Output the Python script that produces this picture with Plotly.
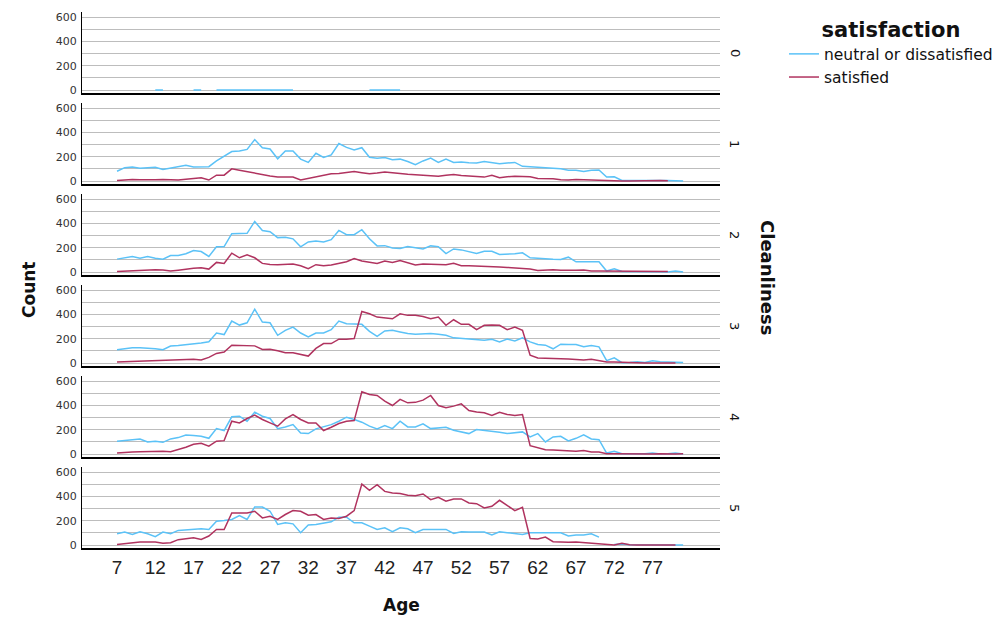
import plotly.graph_objects as go

# ---------------- data ----------------
AGES = list(range(7, 82))
CLEANLINESS = ["0", "1", "2", "3", "4", "5"]
SATISFACTION = ["neutral or dissatisfied", "satisfied"]
X_TICKS = [7, 12, 17, 22, 27, 32, 37, 42, 47, 52, 57, 62, 67, 72, 77]
Y_TICKS = [0, 100, 200, 300, 400, 500, 600]
Y_TICK_TEXT = ["0", "", "200", "", "400", "", "600"]

NEUTRAL_C0 = [None, None, None, None, None, 1, 1, None, None, None,
              1, 1, None, 1, 2, 1, 1, 2, 1, 1,
              1, 2, 1, 1, None, None, None, None, None, None,
              None, None, None, 1, 1, 2, 1, 1, None, None,
              None, None, None, None, None, None, None, None, None, None,
              None, None, None, None, None, None, None, None, None, None,
              None, None, None, None, None, None, None, None, None, None,
              None, None, None, None, None]
SATISFIED_C0 = None

NEUTRAL_C1 = [80, 110, 115, 105, 110, 113, 95, 105, 118, 130,
              115, 117, 118, 165, 205, 242, 247, 260, 341, 274,
              263, 183, 247, 247, 180, 153, 228, 194, 215, 309,
              277, 255, 274, 196, 188, 194, 175, 180, 160, 134,
              165, 188, 153, 180, 153, 156, 150, 148, 161, 150,
              142, 148, 153, 121, 118, 115, 107, 103, 100, 89,
              89, 78, 89, 91, 32, 35, 5, 5, 5, 8,
              10, 6, 5, 3, 0]
SATISFIED_C1 = [5, 10, 13, 10, 8, 10, 13, 10, 8, 15,
                22, 27, 8, 48, 48, 100, 88, 75, 62, 51,
                42, 32, 32, 32, 8, 20, 32, 45, 59, 62,
                67, 78, 68, 59, 65, 75, 68, 59, 55, 52,
                48, 45, 40, 48, 54, 46, 40, 38, 32, 48,
                27, 35, 40, 37, 35, 21, 20, 19, 10, 8,
                13, 10, 8, 6, 5, 2, 0, 0, 2, 3,
                5, 4, 3, None, None]

NEUTRAL_C2 = [106, 118, 128, 114, 128, 114, 106, 136, 136, 150,
              177, 168, 128, 207, 209, 315, 318, 318, 416, 342,
              332, 283, 285, 273, 207, 247, 255, 247, 266, 342,
              307, 307, 348, 273, 215, 217, 198, 193, 209, 200,
              190, 215, 209, 152, 190, 182, 168, 152, 171, 171,
              144, 144, 150, 158, 117, 114, 106, 104, 103, 122,
              84, 84, 84, 84, 8, 27, 5, 5, 5, 6,
              8, 3, 0, 8, 0]
SATISFIED_C2 = [5, 8, 10, 15, 19, 18, 16, 8, 15, 24,
                30, 35, 24, 79, 71, 155, 117, 141, 117, 71,
                62, 60, 62, 65, 52, 27, 60, 52, 57, 70,
                84, 111, 90, 80, 71, 90, 79, 95, 75, 57,
                65, 65, 62, 60, 71, 52, 51, 50, 49, 45,
                42, 38, 35, 30, 24, 13, 16, 19, 15, 13,
                14, 16, 8, 8, 8, 6, 5, 5, 5, 5,
                5, 5, 5, None, None]

NEUTRAL_C3 = [109, 118, 125, 126, 125, 118, 109, 139, 144, 150,
              160, 165, 175, 247, 234, 345, 312, 331, 443, 337,
              331, 228, 269, 296, 247, 215, 247, 247, 274, 345,
              323, 320, 318, 261, 220, 264, 269, 255, 242, 236,
              238, 242, 236, 228, 207, 201, 198, 193, 188, 196,
              174, 198, 182, 207, 174, 152, 147, 117, 155, 152,
              152, 133, 144, 133, 19, 43, 3, 5, 11, 5,
              19, 11, 8, 6, 5]
SATISFIED_C3 = [8, 10, 12, 15, 19, 20, 21, 22, 26, 30,
                30, 24, 46, 79, 90, 147, 147, 145, 141, 111,
                114, 100, 84, 84, 70, 57, 120, 160, 160, 196,
                196, 201, 424, 405, 378, 370, 364, 405, 392, 392,
                383, 364, 378, 310, 356, 318, 318, 274, 310, 312,
                310, 274, 296, 269, 65, 41, 41, 38, 35, 32,
                30, 24, 30, 20, 8, 8, 5, 3, 2, 1,
                1, 0, 0, 0, None]

NEUTRAL_C4 = [105, 112, 118, 124, 99, 105, 96, 124, 135, 157,
              152, 146, 129, 209, 193, 306, 311, 270, 344, 311,
              292, 209, 223, 242, 173, 168, 207, 223, 242, 270,
              303, 284, 262, 229, 207, 234, 209, 270, 223, 223,
              248, 209, 215, 220, 196, 182, 168, 201, 195, 187,
              179, 168, 175, 182, 140, 168, 99, 140, 146, 107,
              129, 157, 124, 118, 8, 22, 3, 2, 0, 3,
              8, 0, 3, 8, 0]
SATISFIED_C4 = [8, 15, 17, 19, 21, 25, 22, 19, 36, 55,
                80, 88, 65, 105, 110, 270, 256, 292, 320, 284,
                256, 229, 289, 325, 284, 256, 256, 193, 220, 251,
                270, 275, 512, 490, 482, 435, 399, 450, 421, 425,
                443, 482, 399, 380, 394, 413, 358, 345, 339, 317,
                344, 325, 317, 325, 69, 50, 36, 33, 30, 25,
                22, 28, 17, 17, 3, 2, 1, 0, 0, 0,
                0, 3, 0, 1, 3]

NEUTRAL_C5 = [93, 106, 87, 109, 93, 68, 106, 93, 120, 123,
              128, 134, 128, 196, 202, 210, 243, 210, 313, 313,
              278, 169, 183, 174, 101, 164, 169, 183, 191, 229,
              229, 183, 183, 155, 128, 142, 109, 142, 134, 101,
              128, 128, 128, 128, 95, 109, 106, 106, 106, 82,
              109, 101, 95, 87, 101, 101, 101, 101, 101, 74,
              82, 82, 93, 65, None, 5, 8, 3, 3, 3,
              3, 3, 5, 3, 0]
SATISFIED_C5 = [5, 12, 19, 25, 25, 25, 14, 19, 44, 50,
                60, 46, 74, 128, 128, 264, 264, 264, 278, 223,
                237, 210, 251, 283, 278, 245, 251, 210, 223, 218,
                237, 283, 501, 450, 496, 441, 428, 424, 409, 406,
                420, 373, 392, 360, 379, 379, 346, 340, 305, 319,
                368, 324, 283, 310, 54, 49, 65, 27, 24, 22,
                25, 20, 19, 16, 11, 0, 14, 3, 0, 0,
                0, 0, 0, 0, None]

NEUTRAL = [NEUTRAL_C0, NEUTRAL_C1, NEUTRAL_C2, NEUTRAL_C3, NEUTRAL_C4, NEUTRAL_C5]
SATISFIED = [SATISFIED_C0, SATISFIED_C1, SATISFIED_C2, SATISFIED_C3, SATISFIED_C4, SATISFIED_C5]

# ---------------- style / geometry ----------------
# The page body has an 8px margin, so the figure is sized to fit the window
# and every position is given in window pixels, then converted.
OFF = 8
W, H = 992, 610
BLUE = "#5BC2F7"
RED = "#B0335F"
GRID = "#BDBDBD"
FONT = "DejaVu Sans, Liberation Sans, sans-serif"
TICK_FONT = "Liberation Sans Narrow, Liberation Sans, sans-serif"


def px(x):
    return (x - OFF) / W


def py(y):
    return 1 - (y - OFF) / H


X_DOMAIN = [px(82), px(720)]
X_RANGE = [2.42, 85.82]
Y_RANGE = [-25, 640]
PX_PER_UNIT = 0.1215
ZERO0, PITCH = 90.0, 91.0

fig = go.Figure()
layout = dict(
    width=W, height=H,
    margin=dict(l=0, r=0, t=0, b=0, autoexpand=False),
    paper_bgcolor="white", plot_bgcolor="white",
    font=dict(family=FONT, color="#111"),
    annotations=[],
)

for k in range(6):
    zero = ZERO0 + PITCH * k
    top = zero - Y_RANGE[1] * PX_PER_UNIT
    bottom = zero - Y_RANGE[0] * PX_PER_UNIT
    sfx = "" if k == 0 else str(k + 1)
    layout["xaxis" + sfx] = dict(
        domain=X_DOMAIN, range=X_RANGE, anchor="y" + sfx,
        showline=True, linecolor="black", linewidth=2,
        showgrid=False, zeroline=False, automargin=False,
        tickmode="array", tickvals=X_TICKS,
        showticklabels=(k == 5), ticks="",
        tickfont=dict(family=TICK_FONT, size=19, color="#222"),
        ticklabelstandoff=1,
    )
    layout["yaxis" + sfx] = dict(
        domain=[py(bottom), py(top)], range=Y_RANGE, anchor="x" + sfx,
        tickmode="array", tickvals=Y_TICKS, ticktext=Y_TICK_TEXT,
        showgrid=True, gridcolor=GRID, gridwidth=1.3,
        showline=True, linecolor="black", linewidth=1,
        zeroline=False, ticks="", automargin=False,
        tickfont=dict(family=FONT, size=11, color="#333"),
        ticklabelstandoff=2,
    )
    layout["annotations"].append(dict(
        x=px(735), y=py(zero - 37), xref="paper", yref="paper",
        xanchor="center", yanchor="middle",
        text=CLEANLINESS[k], showarrow=False, textangle=90,
        font=dict(family=FONT, size=13, color="#111"),
    ))
    fig.add_trace(go.Scatter(
        x=AGES, y=NEUTRAL[k], mode="lines", name=SATISFACTION[0],
        line=dict(color=BLUE, width=1.5), legendgroup="n",
        showlegend=(k == 1), xaxis="x" + sfx, yaxis="y" + sfx,
    ))
    if SATISFIED[k] is not None:
        fig.add_trace(go.Scatter(
            x=AGES, y=SATISFIED[k], mode="lines", name=SATISFACTION[1],
            line=dict(color=RED, width=1.5), legendgroup="s",
            showlegend=(k == 1), xaxis="x" + sfx, yaxis="y" + sfx,
        ))

layout["annotations"] += [
    dict(x=px(401), y=py(605), xref="paper", yref="paper", text="<b>Age</b>",
         xanchor="center", yanchor="middle",
         showarrow=False, font=dict(family=FONT, size=17, color="#111")),
    dict(x=px(29), y=py(290), xref="paper", yref="paper", text="<b>Count</b>",
         xanchor="center", yanchor="middle",
         showarrow=False, textangle=-90, font=dict(family=FONT, size=17, color="#111")),
    dict(x=px(768), y=py(277), xref="paper", yref="paper", text="<b>Cleanliness</b>",
         xanchor="center", yanchor="middle",
         showarrow=False, textangle=90, font=dict(family=FONT, size=18, color="#111")),
]
layout["legend"] = dict(
    x=px(784), y=py(10), xanchor="left", yanchor="top",
    title=dict(text="<b>satisfaction</b>", side="top center",
               font=dict(family=FONT, size=21, color="#111")),
    font=dict(family=FONT, size=15.5, color="#111"),
    bgcolor="rgba(0,0,0,0)", tracegroupgap=0, itemwidth=30,
)
fig.update_layout(**layout)
fig.write_html("out.html")
